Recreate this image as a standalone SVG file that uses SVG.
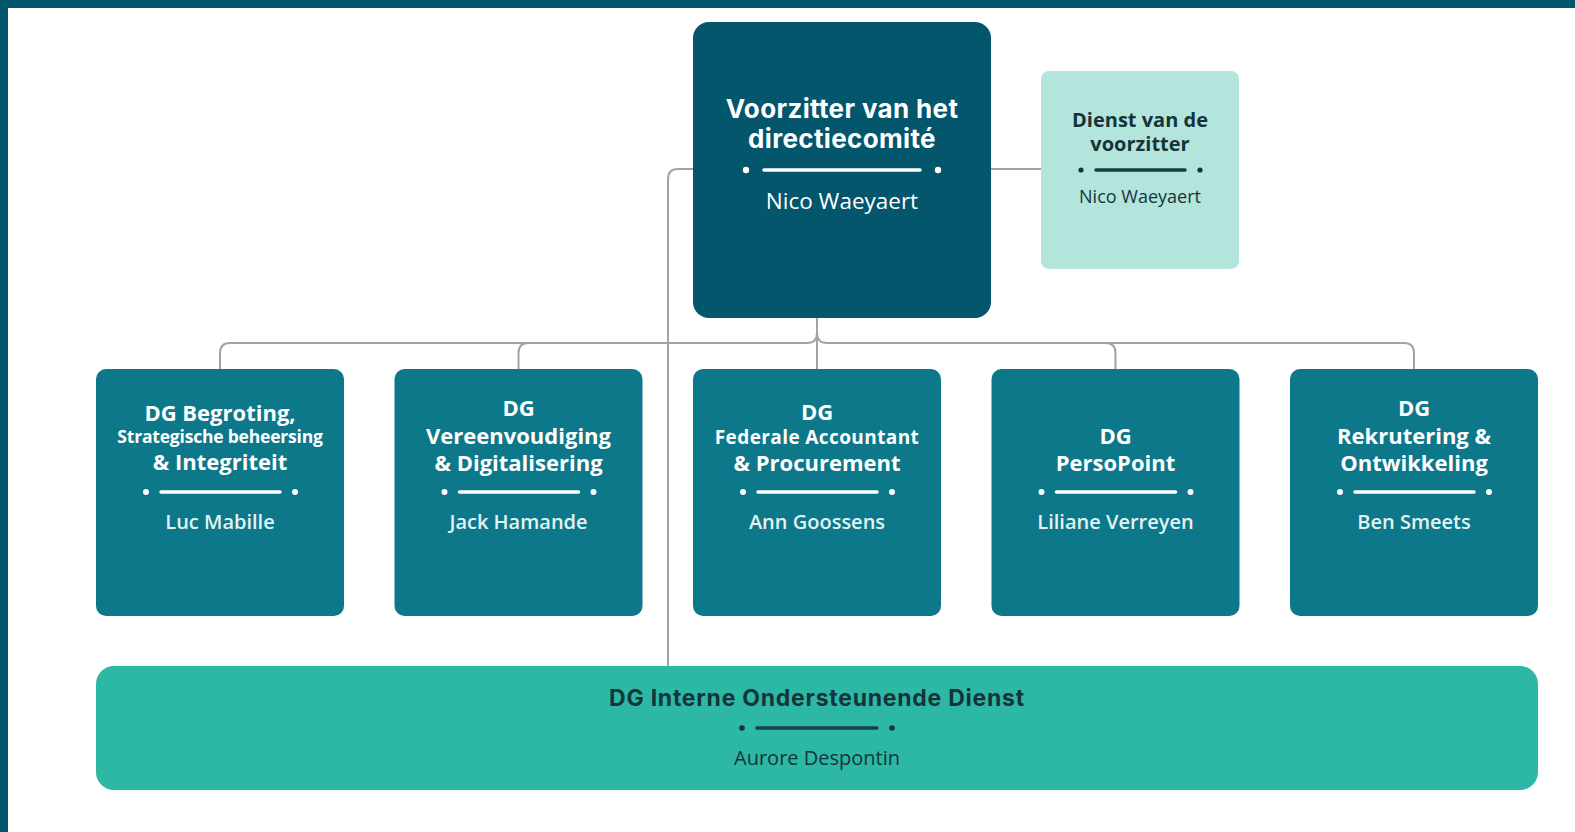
<svg xmlns="http://www.w3.org/2000/svg" width="1575" height="832" viewBox="0 0 1575 832">
  <style>
    .frame { fill: #03566b; }
    .conn { fill: none; stroke: #a3a3a3; stroke-width: 2; }
    .top { fill: #03566b; }
    .side { fill: #b4e5dc; }
    .dg { fill: #0d7889; }
    .support { fill: #2db8a5; }
    .t { font-family: "Open Sans", "Liberation Sans", sans-serif; text-anchor: middle; }
    .m { font-family: Inter, "Open Sans", "Liberation Sans", sans-serif; text-anchor: middle; }
    .w { fill: #ffffff; }
    .lw { fill: #e3f2f3; }
    .d { fill: #14343a; }
    .b { font-weight: 700; }
    .sb { font-weight: 600; }
    .divw { stroke: #ffffff; stroke-width: 3.5; stroke-linecap: round; }
    .divd { stroke: #15404a; stroke-width: 3.5; stroke-linecap: round; }
  </style>

  <!-- page frame -->
  <rect x="0" y="0" width="1575" height="832" fill="#ffffff"/>
  <rect class="frame" x="0" y="0" width="1575" height="8"/>
  <rect class="frame" x="0" y="0" width="8" height="832"/>

  <!-- connectors -->
  <g id="connectors">
    <path class="conn" d="M 817 318 V 369"/>
    <path class="conn" d="M 817 333 Q 817 343 807 343 H 230 Q 220 343 220 353 V 369"/>
    <path class="conn" d="M 528.5 343 Q 518.5 343 518.5 353 V 369"/>
    <path class="conn" d="M 817 333 Q 817 343 827 343 H 1404 Q 1414 343 1414 353 V 369"/>
    <path class="conn" d="M 1105.5 343 Q 1115.5 343 1115.5 353 V 369"/>
    <path class="conn" d="M 991 169 H 1041"/>
    <path class="conn" d="M 693 169 H 678 Q 668 169 668 179 V 666"/>
  </g>

  <!-- chair of the board -->
  <g id="voorzitter">
    <rect class="top" x="693" y="22" width="298" height="296" rx="16"/>
    <text class="m w b" x="842" y="118" font-size="26" letter-spacing="0.35">Voorzitter van het</text>
    <text class="m w b" x="842" y="148" font-size="26" letter-spacing="0.35">directiecomité</text>
    <circle class="w" cx="746" cy="170" r="3.2"/>
    <circle class="w" cx="938" cy="170" r="3.2"/>
    <line class="divw" x1="764" y1="170" x2="920" y2="170"/>
    <text class="t w" x="842" y="209" font-size="22.5">Nico Waeyaert</text>
  </g>

  <!-- chair's office -->
  <g id="dienst-voorzitter">
    <rect class="side" x="1041" y="71" width="198" height="198" rx="8"/>
    <text class="t d b" x="1140" y="127" font-size="20">Dienst van de</text>
    <text class="t d b" x="1140" y="151" font-size="20">voorzitter</text>
    <circle class="d" cx="1081" cy="170" r="2.6"/>
    <circle class="d" cx="1200" cy="170" r="2.6"/>
    <line class="divd" x1="1096" y1="170" x2="1185" y2="170" stroke-width="3"/>
    <text class="t d" x="1140" y="203" font-size="18">Nico Waeyaert</text>
  </g>

  <!-- directorates-general -->
  <g id="dg-begroting">
    <rect class="dg" x="96" y="369" width="248" height="247" rx="10"/>
    <text class="t w b" x="220" y="421" font-size="22">DG Begroting,</text>
    <text class="t w b" x="220" y="443" font-size="17.5" letter-spacing="-0.2">Strategische beheersing</text>
    <text class="t w b" x="220" y="470" font-size="22">&amp; Integriteit</text>
    <circle class="w" cx="146" cy="492" r="3"/>
    <circle class="w" cx="295" cy="492" r="3"/>
    <line class="divw" x1="161" y1="492" x2="280" y2="492" stroke-width="3"/>
    <text class="t lw sb" x="220" y="529" font-size="20">Luc Mabille</text>
  </g>

  <g id="dg-vereenvoudiging">
    <rect class="dg" x="394.5" y="369" width="248" height="247" rx="10"/>
    <text class="t w b" x="518.5" y="416" font-size="22">DG</text>
    <text class="t w b" x="518.5" y="444" font-size="22">Vereenvoudiging</text>
    <text class="t w b" x="518.5" y="471" font-size="22">&amp; Digitalisering</text>
    <circle class="w" cx="444.5" cy="492" r="3"/>
    <circle class="w" cx="593.5" cy="492" r="3"/>
    <line class="divw" x1="459.5" y1="492" x2="578.5" y2="492" stroke-width="3"/>
    <text class="t lw sb" x="518.5" y="529" font-size="20">Jack Hamande</text>
  </g>

  <g id="dg-federale-accountant">
    <rect class="dg" x="693" y="369" width="248" height="247" rx="10"/>
    <text class="t w b" x="817" y="420" font-size="22">DG</text>
    <text class="t w b" x="817" y="444" font-size="19" letter-spacing="0.4">Federale Accountant</text>
    <text class="t w b" x="817" y="471" font-size="22">&amp; Procurement</text>
    <circle class="w" cx="743" cy="492" r="3"/>
    <circle class="w" cx="892" cy="492" r="3"/>
    <line class="divw" x1="758" y1="492" x2="877" y2="492" stroke-width="3"/>
    <text class="t lw sb" x="817" y="529" font-size="20">Ann Goossens</text>
  </g>

  <g id="dg-persopoint">
    <rect class="dg" x="991.5" y="369" width="248" height="247" rx="10"/>
    <text class="t w b" x="1115.5" y="444" font-size="22">DG</text>
    <text class="t w b" x="1115.5" y="471" font-size="22">PersoPoint</text>
    <circle class="w" cx="1041.5" cy="492" r="3"/>
    <circle class="w" cx="1190.5" cy="492" r="3"/>
    <line class="divw" x1="1056.5" y1="492" x2="1175.5" y2="492" stroke-width="3"/>
    <text class="t lw sb" x="1115.5" y="529" font-size="20">Liliane Verreyen</text>
  </g>

  <g id="dg-rekrutering">
    <rect class="dg" x="1290" y="369" width="248" height="247" rx="10"/>
    <text class="t w b" x="1414" y="416" font-size="22">DG</text>
    <text class="t w b" x="1414" y="444" font-size="22">Rekrutering &amp;</text>
    <text class="t w b" x="1414" y="471" font-size="22">Ontwikkeling</text>
    <circle class="w" cx="1340" cy="492" r="3"/>
    <circle class="w" cx="1489" cy="492" r="3"/>
    <line class="divw" x1="1355" y1="492" x2="1474" y2="492" stroke-width="3"/>
    <text class="t lw sb" x="1414" y="529" font-size="20">Ben Smeets</text>
  </g>

  <!-- internal support service -->
  <g id="dg-interne-ondersteunende-dienst">
    <rect class="support" x="96" y="666" width="1442" height="124" rx="18"/>
    <text class="m d b" x="817" y="706" font-size="23" letter-spacing="0.75">DG Interne Ondersteunende Dienst</text>
    <circle class="d" cx="742" cy="728" r="2.8"/>
    <circle class="d" cx="892" cy="728" r="2.8"/>
    <line class="divd" x1="757" y1="728" x2="877" y2="728" stroke-width="3"/>
    <text class="t d" x="817" y="765" font-size="20">Aurore Despontin</text>
  </g>
</svg>
